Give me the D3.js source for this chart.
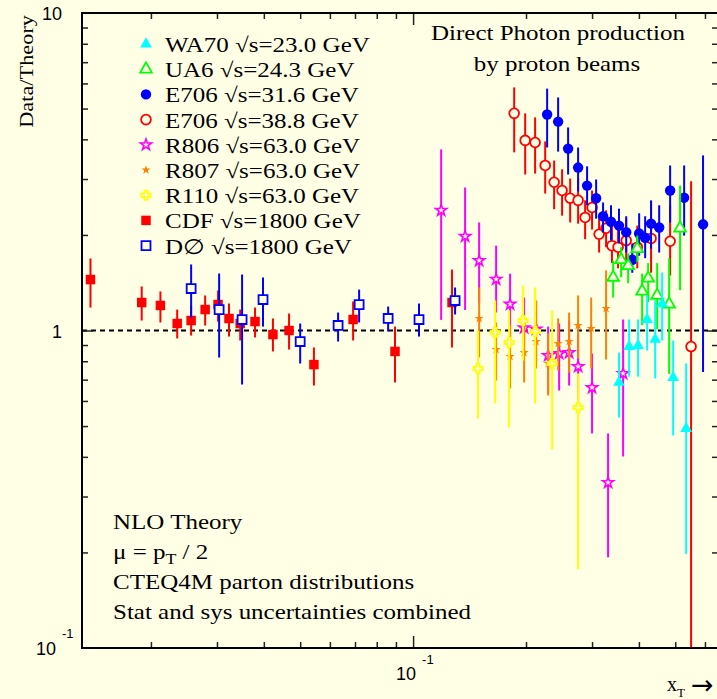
<!DOCTYPE html>
<html>
<head>
<meta charset="utf-8">
<script src="https://cdn.jsdelivr.net/npm/d3@7"></script>
<style>
  body { margin: 0; background: #ffffe6; }
  svg { display: block; }
</style>
</head>
<body>
<div id="chart"></div>
<script>
const width = 717;
const height = 699;
const bg = "#ffffe6";

// [xT, data/theory, low, high]
const wa70 = [
  [0.354, 0.686, 0.532, 0.852], [0.3767, 0.890, 0.716, 1.083], [0.398, 0.897, 0.716, 1.083],
  [0.4207, 1.083, 0.865, 1.289], [0.442, 0.937, 0.706, 1.243], [0.4613, 1.216, 0.930, 1.523],
  [0.4935, 0.711, 0.467, 0.930], [0.5346, 0.491, 0.198, 0.787]
];
const ua6 = [
  [0.3415, 1.47, 1.27, 1.66], [0.3586, 1.67, 1.47, 1.83], [0.3744, 1.60, 1.41, 1.75],
  [0.396, 1.81, 1.64, 1.99], [0.408, 1.33, 1.04, 1.51], [0.4234, 1.46, 1.23, 1.63],
  [0.4474, 1.29, 1.01, 1.63], [0.4816, 1.21, 0.73, 1.69], [0.515, 2.10, 1.34, 2.86]
];
const e706a = [
  [0.2277, 4.79, 3.77, 5.78], [0.2436, 4.55, 3.66, 5.42], [0.259, 3.74, 3.10, 4.36],
  [0.2754, 3.26, 2.74, 3.77], [0.291, 2.86, 2.48, 3.29], [0.3076, 2.61, 2.25, 2.99],
  [0.321, 2.29, 2.04, 2.53], [0.337, 2.20, 1.92, 2.48], [0.354, 2.14, 1.88, 2.42],
  [0.370, 2.04, 1.76, 2.29], [0.384, 1.67, 1.52, 1.88], [0.4006, 2.02, 1.72, 2.34],
  [0.4156, 1.96, 1.69, 2.29], [0.431, 2.17, 1.81, 2.57], [0.453, 2.11, 1.76, 2.48],
  [0.4845, 2.76, 2.19, 3.31], [0.528, 2.62, 1.99, 3.31], [0.593, 2.16, 0.74, 3.56]
];
const e706b = [
  [0.186, 4.83, 3.64, 5.83], [0.199, 3.97, 3.10, 4.83], [0.2115, 3.91, 3.12, 4.69],
  [0.225, 3.31, 2.70, 3.94], [0.2377, 2.93, 2.41, 3.43], [0.2496, 2.76, 2.30, 3.22],
  [0.2623, 2.61, 2.19, 3.01], [0.2754, 2.57, 2.17, 3.01], [0.2875, 2.27, 1.94, 2.57],
  [0.300, 2.44, 2.08, 2.76], [0.3133, 2.01, 1.76, 2.27], [0.327, 2.10, 1.83, 2.39],
  [0.339, 1.85, 1.63, 2.14], [0.352, 1.83, 1.57, 2.10], [0.370, 1.92, 1.64, 2.25],
  [0.396, 1.83, 1.57, 2.14], [0.431, 1.95, 1.52, 2.55], [0.4845, 1.91, 1.49, 2.48],
  [0.551, 0.89, 0.05, 2.95]
];
const r806 = [
  [0.1188, 2.39, 1.08, 3.72], [0.1376, 1.98, 1.16, 2.82], [0.150, 1.66, 1.22, 2.19],
  [0.1665, 1.45, 1.14, 1.85], [0.1814, 1.21, 0.93, 1.51], [0.1977, 1.02, 0.83, 1.27],
  [0.2128, 1.01, 0.80, 1.24], [0.2291, 0.834, 0.633, 1.029], [0.2451, 0.846, 0.647, 1.052],
  [0.2606, 0.852, 0.671, 1.075], [0.2754, 0.770, 0.602, 0.979], [0.300, 0.661, 0.474, 0.846],
  [0.331, 0.332, 0.193, 0.474], [0.363, 0.732, 0.401, 1.083]
];
const r807 = [
  [0.150, 1.091, 0.822, 1.366], [0.1665, 0.871, 0.696, 1.060], [0.1814, 0.828, 0.657, 1.037],
  [0.1977, 0.852, 0.686, 1.060], [0.2128, 0.923, 0.759, 1.243], [0.2291, 0.787, 0.624, 0.979],
  [0.2436, 0.910, 0.748, 1.091], [0.2606, 0.923, 0.737, 1.139], [0.2754, 1.037, 0.816, 1.289],
  [0.2984, 1.015, 0.759, 1.270], [0.327, 1.173, 0.810, 1.546]
];
const r110 = [
  [0.149, 0.759, 0.528, 1.000], [0.1655, 0.986, 0.589, 1.243], [0.1803, 0.917, 0.495, 1.156],
  [0.1965, 1.075, 0.804, 1.386], [0.2115, 0.993, 0.589, 1.366], [0.2348, 0.787, 0.422, 1.156],
  [0.2754, 0.572, 0.177, 0.732]
];
const cdf = [
  [0.0138, 1.447, 1.181, 1.686], [0.0189, 1.225, 1.075, 1.376], [0.0212, 1.199, 1.060, 1.327],
  [0.0235, 1.052, 0.944, 1.164], [0.0256, 1.075, 0.964, 1.199], [0.0279, 1.164, 1.037, 1.289],
  [0.0302, 1.207, 1.067, 1.336], [0.0323, 1.091, 0.957, 1.216], [0.0346, 1.052, 0.930, 1.164],
  [0.0379, 1.067, 0.951, 1.181], [0.0423, 0.971, 0.859, 1.091], [0.0467, 1.000, 0.871, 1.131],
  [0.0544, 0.781, 0.671, 0.884], [0.0692, 1.083, 0.930, 1.234], [0.0895, 0.859, 0.686, 1.029],
  [0.127, 1.225, 0.884, 1.556]
];
const d0 = [
  [0.0256, 1.356, 1.099, 1.614], [0.0304, 1.164, 0.822, 1.512], [0.0350, 1.083, 0.676, 1.501],
  [0.0398, 1.252, 1.029, 1.469], [0.0500, 0.923, 0.787, 1.052], [0.0631, 1.037, 0.923, 1.139],
  [0.0718, 1.207, 1.060, 1.346], [0.0858, 1.091, 0.993, 1.190], [0.1037, 1.083, 0.957, 1.216],
  [0.1294, 1.243, 1.123, 1.366]
];

const legendLabels = [
  "WA70 \u221As=23.0 GeV", "UA6 \u221As=24.3 GeV", "E706 \u221As=31.6 GeV", "E706 \u221As=38.8 GeV",
  "R806 \u221As=63.0 GeV", "R807 \u221As=63.0 GeV", "R110 \u221As=63.0 GeV", "CDF \u221As=1800 GeV",
  "D\u2205 \u221As=1800 GeV"
];
const notes = ["NLO Theory", "CTEQ4M parton distributions", "Stat and sys uncertainties combined"];
const xMinor = [0.02, 0.03, 0.04, 0.05, 0.06, 0.07, 0.08, 0.09, 0.2, 0.3, 0.4, 0.5, 0.6];
const yMinor = [0.2, 0.3, 0.4, 0.5, 0.6, 0.7, 0.8, 0.9, 2, 3, 4, 5, 6, 7, 8, 9];

// series in legend order, draw order given separately
const series = [
  { data: wa70, color: "#00ffff", shape: "triangle", open: false, size: 60, sw: 1.8 },
  { data: ua6, color: "#00ff00", shape: "triangle", open: true, size: 60, sw: 1.8 },
  { data: e706a, color: "#0000ff", shape: "circle", open: false, size: 85, sw: 1.8 },
  { data: e706b, color: "#ff0000", shape: "circle", open: true, size: 75, sw: 1.8 },
  { data: r806, color: "#ff00ff", shape: "star", open: true, size: 38, sw: 1.6 },
  { data: r807, color: "#ff8000", shape: "star", open: false, size: 26, sw: 1.6 },
  { data: r110, color: "#ffff00", shape: "cross", open: true, size: 48, sw: 1.8 },
  { data: cdf, color: "#ff0000", shape: "square", open: false, size: 90, sw: 1.8 },
  { data: d0, color: "#0000ff", shape: "square", open: true, size: 80, sw: 1.8 }
];
const drawOrder = [7, 8, 4, 5, 6, 3, 2, 1, 0];

const serif = "'Liberation Serif', 'Times New Roman', serif";
const sans = "'Liberation Sans', Arial, sans-serif";
const stretch = 1.19;

const x = d3.scaleLog().domain([0.0131, 0.65]).range([82, 718]);
const y = d3.scaleLog().domain([0.1, 10]).range([648, 13]);

const svg = d3.select("#chart")
  .append("svg")
  .attr("width", width)
  .attr("height", height)
  .style("background", bg);

const shapes = {
  circle: d3.symbolCircle, square: d3.symbolSquare, triangle: d3.symbolTriangle,
  star: d3.symbolStar, cross: d3.symbolCross
};

function marker(g, s, cx, cy) {
  g.append("path")
    .attr("d", d3.symbol(shapes[s.shape], s.size)())
    .attr("transform", `translate(${cx},${cy})`)
    .attr("fill", s.open ? bg : s.color)
    .attr("stroke", s.open ? s.color : "none")
    .attr("stroke-width", s.sw);
}

// serif text, a bit wider than Times
function stext(g, px, py, str, size, anchor) {
  return g.append("text")
    .attr("transform", `translate(${px},${py}) scale(${stretch},1)`)
    .attr("font-family", serif)
    .attr("font-size", size)
    .attr("text-anchor", anchor || "start")
    .attr("fill", "#000")
    .text(str);
}

svg.append("clipPath").attr("id", "plotClip")
  .append("rect").attr("x", 82).attr("y", 13).attr("width", 636).attr("height", 635);

// dashed line at ratio 1
svg.append("line")
  .attr("x1", 82).attr("x2", 718)
  .attr("y1", y(1)).attr("y2", y(1))
  .attr("stroke", "#000").attr("stroke-width", 2)
  .attr("stroke-dasharray", "5,4");

const plot = svg.append("g").attr("clip-path", "url(#plotClip)");

drawOrder.forEach(i => {
  const s = series[i];
  const g = plot.append("g");
  g.selectAll("line")
    .data(s.data)
    .enter()
    .append("line")
    .attr("x1", d => x(d[0])).attr("x2", d => x(d[0]))
    .attr("y1", d => y(Math.max(d[2], 0.05))).attr("y2", d => y(d[3]))
    .attr("stroke", s.color)
    .attr("stroke-width", 2);
  s.data.forEach(d => marker(g, s, x(d[0]), y(d[1])));
});

// axes
const axes = svg.append("g").attr("stroke", "#000");
const tickStyle = a => a.selectAll("line").attr("stroke", "#222").attr("stroke-width", 1.5);

const xb = axes.append("g").attr("transform", "translate(0,648)")
  .call(d3.axisBottom(x).tickValues(xMinor).tickSize(-6).tickFormat(""));
const xbMaj = axes.append("g").attr("transform", "translate(0,648)")
  .call(d3.axisBottom(x).tickValues([0.1]).tickSize(-12).tickFormat(""));
const xt = axes.append("g").attr("transform", "translate(0,13)")
  .call(d3.axisTop(x).tickValues(xMinor).tickSize(-6).tickFormat(""));
const xtMaj = axes.append("g").attr("transform", "translate(0,13)")
  .call(d3.axisTop(x).tickValues([0.1]).tickSize(-12).tickFormat(""));
const yl = axes.append("g").attr("transform", "translate(82,0)")
  .call(d3.axisLeft(y).tickValues(yMinor).tickSize(-6).tickFormat(""));
const ylMaj = axes.append("g").attr("transform", "translate(82,0)")
  .call(d3.axisLeft(y).tickValues([1]).tickSize(-11).tickFormat(""));
const yr = axes.append("g").attr("transform", "translate(718,0)")
  .call(d3.axisRight(y).tickValues(yMinor).tickSize(-6).tickFormat(""));
const yrMaj = axes.append("g").attr("transform", "translate(718,0)")
  .call(d3.axisRight(y).tickValues([1]).tickSize(-11).tickFormat(""));
[xb, xbMaj, xt, xtMaj, yl, ylMaj, yr, yrMaj].forEach(a => {
  a.select(".domain").remove();
  tickStyle(a);
});

axes.append("rect")
  .attr("x", 82).attr("y", 13).attr("width", 636).attr("height", 635)
  .attr("fill", "none").attr("stroke", "#000").attr("stroke-width", 2);

// axis labels
const lab = svg.append("g").attr("font-family", sans).attr("fill", "#000");
lab.append("text").attr("x", 62).attr("y", 20).attr("text-anchor", "end")
  .attr("font-size", 18).text("10");
lab.append("text").attr("x", 62).attr("y", y(1) + 7).attr("text-anchor", "end")
  .attr("font-size", 18).text("1");
lab.append("text").attr("x", 56).attr("y", 655).attr("text-anchor", "end")
  .attr("font-size", 18).text("10");
lab.append("text").attr("x", 62).attr("y", 638)
  .attr("font-size", 13).text("-1");
lab.append("text").attr("x", x(0.1) + 3).attr("y", 680).attr("text-anchor", "end")
  .attr("font-size", 18).text("10");
lab.append("text").attr("x", x(0.1) + 9).attr("y", 664)
  .attr("font-size", 13).text("-1");

svg.append("text")
  .attr("transform", "translate(33,15) rotate(-90) scale(1.24,1)")
  .attr("font-family", serif)
  .attr("font-size", 18)
  .attr("text-anchor", "end")
  .text("Data/Theory");

const xTitle = svg.append("text")
  .attr("x", 667).attr("y", 691)
  .attr("font-family", serif)
  .attr("font-size", 20)
  .text("x");
xTitle.append("tspan").attr("font-size", 13).attr("dy", 6).text("T");
svg.append("text")
  .attr("x", 691).attr("y", 694)
  .attr("font-family", "'DejaVu Sans', sans-serif")
  .attr("font-size", 27)
  .text("\u2192");

// header
stext(svg, 558, 40, "Direct Photon production", 21, "middle");
stext(svg, 557, 71, "by proton beams", 21, "middle");

// legend
const legend = svg.append("g");
legendLabels.forEach((label, i) => {
  const cy = 44 + i * 25.2;
  marker(legend, series[i], 146, cy);
  stext(legend, 165, cy + 8, label, 21);
});

// notes
stext(svg, 113, 529, notes[0], 21);
const mu = stext(svg, 113, 559, "\u03bc = p", 21);
mu.append("tspan").attr("font-size", 15).attr("dy", 5).text("T");
mu.append("tspan").attr("dy", -5).text(" / 2");
stext(svg, 113, 589, notes[1], 21);
stext(svg, 113, 619, notes[2], 21);
</script>
</body>
</html>
